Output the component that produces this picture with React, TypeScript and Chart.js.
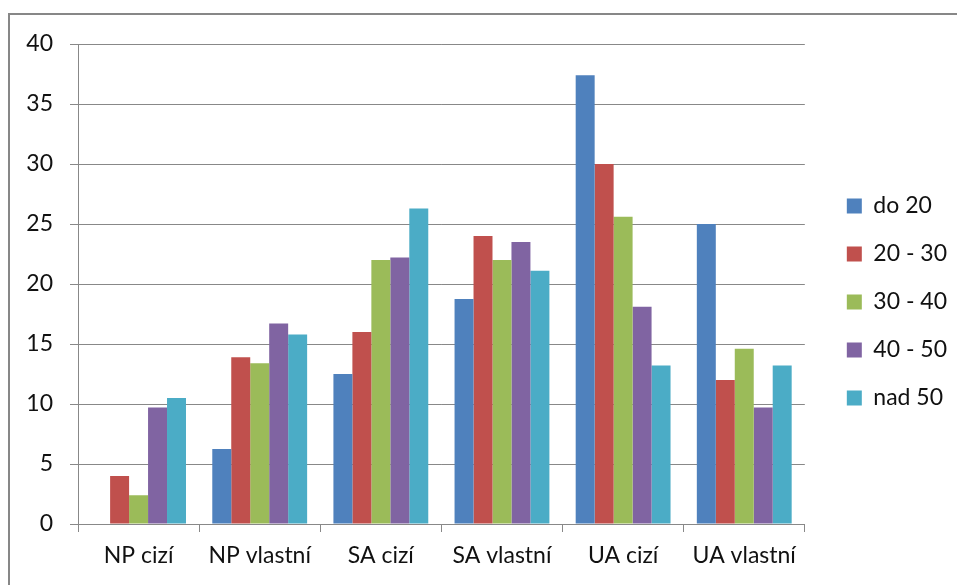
import React, { useEffect, useRef } from "react";
import { Chart, registerables } from "chart.js";

Chart.register(...registerables);

const categories = ["NP cizí", "NP vlastní", "SA cizí", "SA vlastní", "UA cizí", "UA vlastní"];
const seriesNames = ["do 20", "20 - 30", "30 - 40", "40 - 50", "nad 50"];
const do20 = [0, 6.25, 12.5, 18.75, 37.4, 25];
const s20to30 = [4, 13.9, 16, 24, 30, 12];
const s30to40 = [2.4, 13.4, 22, 22, 25.6, 14.6];
const s40to50 = [9.7, 16.7, 22.2, 23.5, 18.1, 9.7];
const nad50 = [10.5, 15.8, 26.3, 21.1, 13.2, 13.2];
const seriesValues = [do20, s20to30, s30to40, s40to50, nad50];
const colors = ["#4F81BD", "#C0504D", "#9BBB59", "#8064A2", "#4BACC6"];
const yMin = 0;
const yMax = 40;
const yStep = 5;

const FONT = "Lato, 'Open Sans', sans-serif";
const GRID = "#888888";
const TEXT = "#111111";

export default function App() {
  const canvasRef = useRef<HTMLCanvasElement | null>(null);

  useEffect(() => {
    document.body.style.margin = "0";
    const canvas = canvasRef.current;
    if (!canvas) return;
    const chart = new Chart(canvas, {
      type: "bar",
      data: {
        labels: categories,
        datasets: seriesNames.map((name, i) => ({
          label: name,
          data: seriesValues[i],
          backgroundColor: colors[i],
          borderWidth: 0,
          barPercentage: 1,
          categoryPercentage: 0.783,
          xAxisID: "x",
          yAxisID: "y",
        })),
      },
      options: {
        animation: false,
        responsive: false,
        maintainAspectRatio: false,
        devicePixelRatio: 1,
        layout: { padding: { left: 8, top: 38, right: 0, bottom: 19 } },
        plugins: {
          title: { display: false },
          tooltip: { enabled: false },
          legend: {
            display: true,
            position: "right",
            align: "center",
            labels: {
              boxWidth: 15,
              boxHeight: 15,
              padding: 25,
              color: TEXT,
              font: { family: FONT, size: 23 },
            },
          },
        },
        scales: {
          x: {
            type: "category",
            position: "bottom",
            offset: true,
            grid: {
              display: true,
              drawOnChartArea: false,
              drawTicks: true,
              tickLength: 8,
              offset: true,
              color: GRID,
              lineWidth: 1,
            },
            border: { display: true, color: GRID, width: 1 },
            ticks: {
              color: TEXT,
              font: { family: FONT, size: 23 },
              padding: 10,
              maxRotation: 0,
              autoSkip: false,
            },
            afterFit: (axis: any) => {
              axis.height = 42;
            },
          },
          xTop: {
            type: "category",
            position: "top",
            display: true,
            grid: { display: false, drawTicks: false },
            border: { display: false },
            ticks: { display: false },
            afterFit: (axis: any) => {
              axis.height = 6;
            },
          },
          y: {
            type: "linear",
            position: "left",
            min: yMin,
            max: yMax,
            grid: {
              display: true,
              drawOnChartArea: true,
              drawTicks: true,
              tickLength: 8,
              color: GRID,
              lineWidth: 1,
            },
            border: { display: true, color: GRID, width: 1 },
            ticks: {
              stepSize: yStep,
              color: TEXT,
              font: { family: FONT, size: 23 },
              padding: 17,
            },
            afterFit: (axis: any) => {
              axis.width = 70;
            },
          },
          y2: {
            type: "linear",
            position: "right",
            display: true,
            min: yMin,
            max: yMax,
            grid: { display: false, drawTicks: false },
            border: { display: false },
            ticks: { display: false },
            afterFit: (axis: any) => {
              axis.width = 17;
            },
          },
        },
      },
    });
    return () => chart.destroy();
  }, []);

  return (
    <div style={{ position: "relative", width: 957, height: 585, overflow: "hidden", background: "#fff" }}>
      <div
        style={{
          position: "absolute",
          left: 8,
          top: 13,
          width: 1200,
          height: 1200,
          border: "2px solid #878787",
          boxSizing: "border-box",
        }}
      />
      <canvas
        ref={canvasRef}
        width={957}
        height={585}
        style={{ position: "absolute", left: 0, top: 0, width: 957, height: 585 }}
      />
    </div>
  );
}
